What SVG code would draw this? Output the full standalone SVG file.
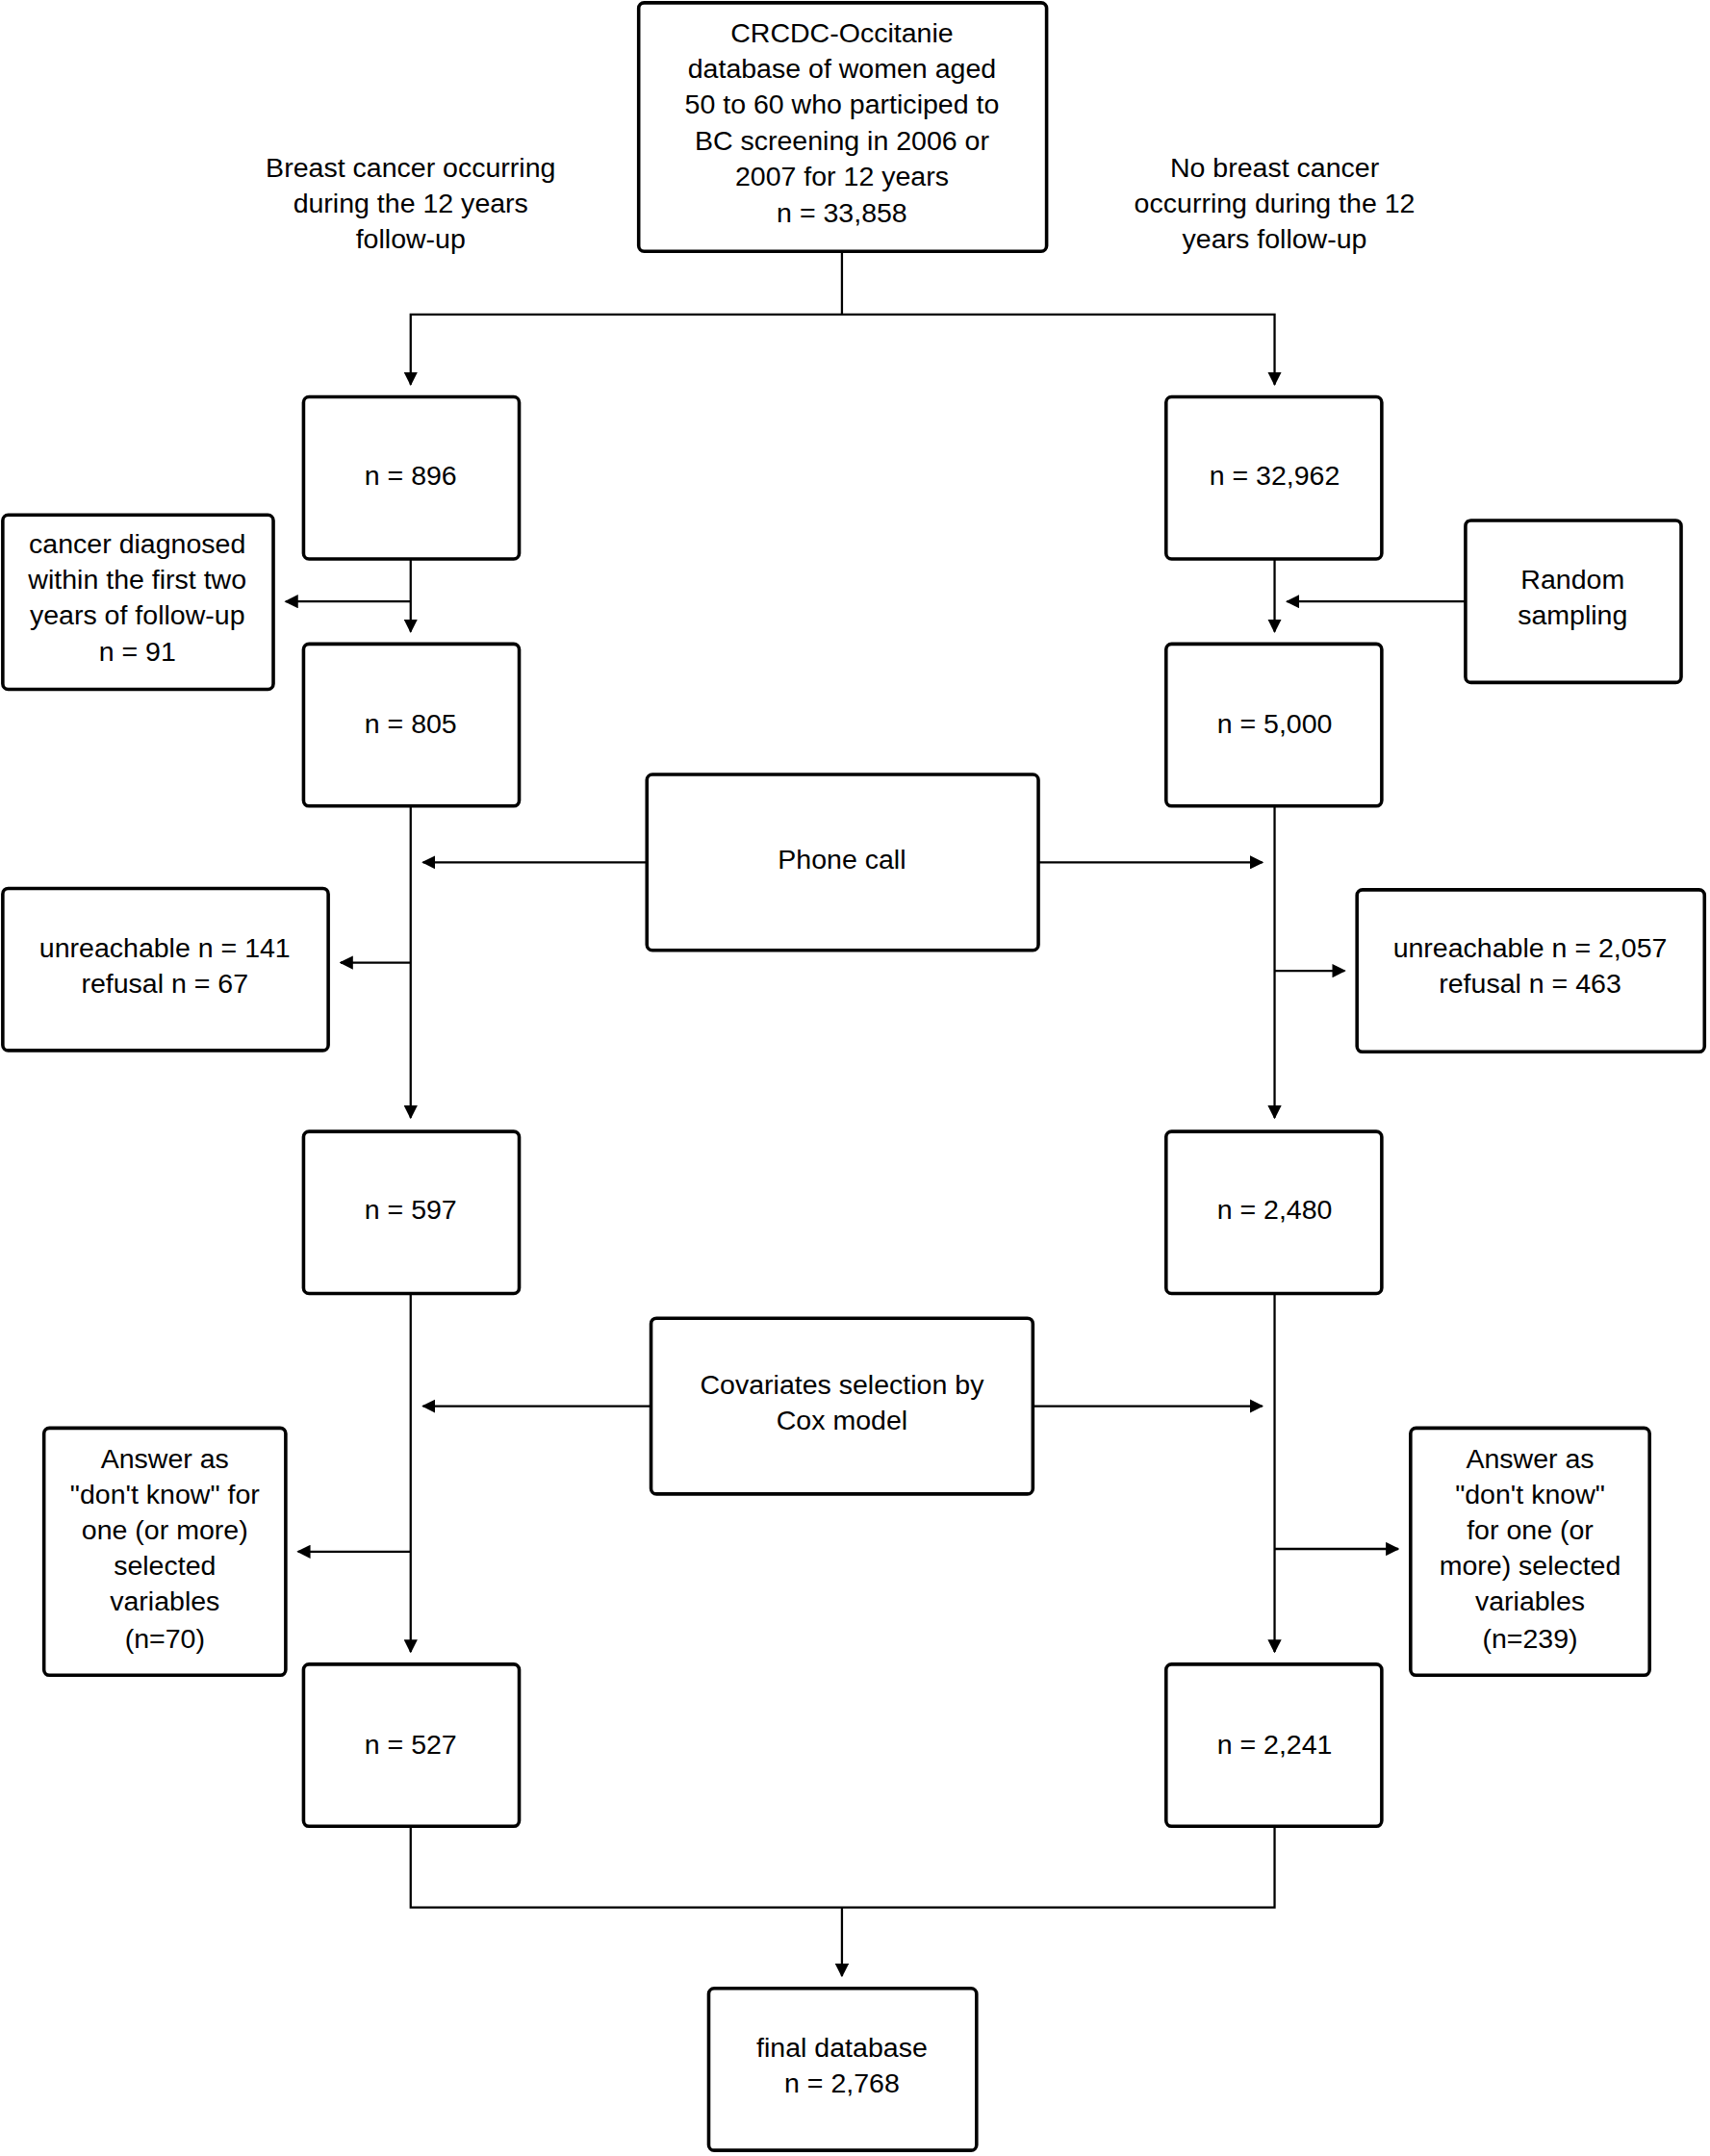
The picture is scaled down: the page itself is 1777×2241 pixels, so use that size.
<svg xmlns="http://www.w3.org/2000/svg" width="1777" height="2241" viewBox="0 0 1777 2241">
<defs><marker id="a" markerWidth="10" markerHeight="10" refX="9" refY="5" orient="auto" markerUnits="userSpaceOnUse"><path d="M0,0 L10,5 L0,10 z" fill="#000"/></marker>
<style>rect{fill:#fff;stroke:#000;stroke-width:2.5}text{font-family:"Liberation Sans",Arial,sans-serif;font-size:20px;text-anchor:middle;fill:#000}.c path{fill:none;stroke:#000;stroke-width:1.6}</style></defs>
<rect width="1777" height="2241" style="fill:#fff;stroke:none"/>
<g transform="scale(1.4273)">
<g class="c">
<path d="M613,183V229H299V280" marker-end="url(#a)"/><path d="M613,229H928V280" marker-end="url(#a)"/>
<path d="M299,407V460" marker-end="url(#a)"/><path d="M299,438H208" marker-end="url(#a)"/>
<path d="M928,407V460" marker-end="url(#a)"/><path d="M1067,438H937" marker-end="url(#a)"/>
<path d="M299,587V814" marker-end="url(#a)"/><path d="M471,628H308" marker-end="url(#a)"/><path d="M299,701H248" marker-end="url(#a)"/>
<path d="M928,587V814" marker-end="url(#a)"/><path d="M756,628H919" marker-end="url(#a)"/><path d="M928,707H979" marker-end="url(#a)"/>
<path d="M299,942V1203" marker-end="url(#a)"/><path d="M474,1024H308" marker-end="url(#a)"/><path d="M299,1130H217" marker-end="url(#a)"/>
<path d="M928,942V1203" marker-end="url(#a)"/><path d="M752,1024H919" marker-end="url(#a)"/><path d="M928,1128H1018" marker-end="url(#a)"/>
<path d="M299,1330V1389H928V1330"/><path d="M613,1389V1439" marker-end="url(#a)"/>
</g>
<g id="top"><rect x="465" y="2" width="297" height="181" rx="4"/><text x="613" y="31">CRCDC-Occitanie</text><text x="613" y="57">database of women aged</text><text x="613" y="83">50 to 60 who participed to</text><text x="613" y="109">BC screening in 2006 or</text><text x="613" y="135">2007 for 12 years</text><text x="613" y="162">n = 33,858</text></g>
<g id="lblL"><text x="299" y="129">Breast cancer occurring</text><text x="299" y="155">during the 12 years</text><text x="299" y="181">follow-up</text></g>
<g id="lblR"><text x="928" y="129">No breast cancer</text><text x="928" y="155">occurring during the 12</text><text x="928" y="181">years follow-up</text></g>
<g id="n896"><rect x="221" y="289" width="157" height="118" rx="4"/><text x="299" y="353">n = 896</text></g>
<g id="n32962"><rect x="849" y="289" width="157" height="118" rx="4"/><text x="928" y="353">n = 32,962</text></g>
<g id="excl1"><rect x="2" y="375" width="197" height="127" rx="4"/><text x="100" y="403">cancer diagnosed</text><text x="100" y="429">within the first two</text><text x="100" y="455">years of follow-up</text><text x="100" y="481">n = 91</text></g>
<g id="rand"><rect x="1067" y="379" width="157" height="118" rx="4"/><text x="1145" y="429">Random</text><text x="1145" y="455">sampling</text></g>
<g id="n805"><rect x="221" y="469" width="157" height="118" rx="4"/><text x="299" y="534">n = 805</text></g>
<g id="n5000"><rect x="849" y="469" width="157" height="118" rx="4"/><text x="928" y="534">n = 5,000</text></g>
<g id="phone"><rect x="471" y="564" width="285" height="128" rx="4"/><text x="613" y="633">Phone call</text></g>
<g id="unrL"><rect x="2" y="647" width="237" height="118" rx="4"/><text x="120" y="697">unreachable n = 141</text><text x="120" y="723">refusal n = 67</text></g>
<g id="unrR"><rect x="988" y="648" width="253" height="118" rx="4"/><text x="1114" y="697">unreachable n = 2,057</text><text x="1114" y="723">refusal n = 463</text></g>
<g id="n597"><rect x="221" y="824" width="157" height="118" rx="4"/><text x="299" y="888">n = 597</text></g>
<g id="n2480"><rect x="849" y="824" width="157" height="118" rx="4"/><text x="928" y="888">n = 2,480</text></g>
<g id="cox"><rect x="474" y="960" width="278" height="128" rx="4"/><text x="613" y="1015">Covariates selection  by</text><text x="613" y="1041">Cox model</text></g>
<g id="ansL"><rect x="32" y="1040" width="176" height="180" rx="4"/><text x="120" y="1069">Answer as</text><text x="120" y="1095">"don't know" for</text><text x="120" y="1121">one (or more)</text><text x="120" y="1147">selected</text><text x="120" y="1173">variables</text><text x="120" y="1200">(n=70)</text></g>
<g id="ansR"><rect x="1027" y="1040" width="174" height="180" rx="4"/><text x="1114" y="1069">Answer as</text><text x="1114" y="1095">"don't know"</text><text x="1114" y="1121">for one (or</text><text x="1114" y="1147">more) selected</text><text x="1114" y="1173">variables</text><text x="1114" y="1200">(n=239)</text></g>
<g id="n527"><rect x="221" y="1212" width="157" height="118" rx="4"/><text x="299" y="1277">n = 527</text></g>
<g id="n2241"><rect x="849" y="1212" width="157" height="118" rx="4"/><text x="928" y="1277">n = 2,241</text></g>
<g id="final"><rect x="516" y="1448" width="195" height="118" rx="4"/><text x="613" y="1498">final database</text><text x="613" y="1524">n = 2,768</text></g>
</g>
</svg>
